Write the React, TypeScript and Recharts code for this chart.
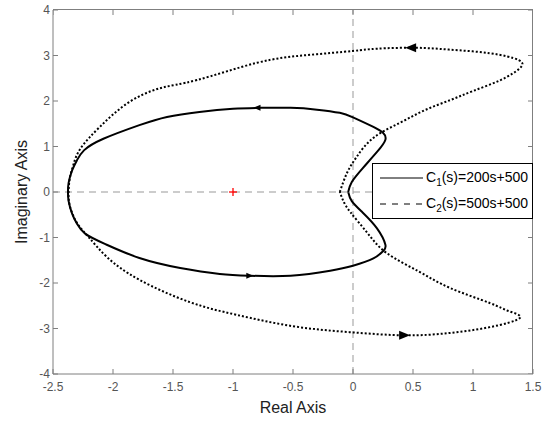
import React from 'react'
import {
  ScatterChart, Scatter, XAxis, YAxis, ReferenceLine,
} from 'recharts'

// C1(s) = 200s+500 closed Nyquist contour (solid)
const c1Re = [
  -0.04, -0.01, 0.08, 0.2, 0.27, 0.25, 0.17, 0.0, -0.11, -0.3, -0.52, -0.78, -1.0, -1.28,
  -1.55, -1.78, -2.08, -2.24, -2.3, -2.34, -2.37, -2.375,
  -2.37, -2.34, -2.3, -2.23, -2.06, -1.78, -1.44, -1.11, -0.86, -0.52, -0.19, 0.0, 0.17,
  0.25, 0.27, 0.2, 0.08, -0.01, -0.04,
]
const c1Im = [
  0, 0.22, 0.52, 0.88, 1.15, 1.3, 1.43, 1.64, 1.74, 1.81, 1.85, 1.85, 1.83, 1.76,
  1.65, 1.47, 1.17, 0.92, 0.7, 0.48, 0.2, 0,
  -0.2, -0.48, -0.7, -0.92, -1.15, -1.45, -1.67, -1.8, -1.84, -1.84, -1.73, -1.62, -1.46,
  -1.3, -1.16, -0.8, -0.45, -0.2, 0,
]

// C2(s) = 500s+500 closed Nyquist contour (dotted)
const c2Re = [
  -0.11, -0.05, 0.03, 0.17, 0.39, 0.6, 0.81, 1.0, 1.23, 1.39, 1.38, 1.14, 0.8, 0.52,
  0.2, 0.0, -0.38, -0.8, -1.3, -1.61, -1.88, -2.11, -2.27, -2.33, -2.36, -2.37,
  -2.36, -2.3, -2.2, -2.05, -1.78, -1.36, -0.97, -0.5, -0.03, 0.43, 0.8, 1.14, 1.39,
  1.3, 1.14, 0.81, 0.55, 0.28, 0.12, -0.02, -0.08, -0.11,
]
const c2Im = [
  0, 0.42, 0.77, 1.19, 1.52, 1.8, 2.02, 2.22, 2.46, 2.72, 2.9, 3.05, 3.13, 3.17,
  3.15, 3.1, 3.01, 2.84, 2.46, 2.28, 1.95, 1.43, 0.96, 0.6, 0.3, 0,
  -0.3, -0.68, -1.0, -1.43, -1.93, -2.42, -2.7, -2.95, -3.08, -3.15, -3.1, -2.97, -2.77,
  -2.62, -2.44, -2.11, -1.75, -1.34, -0.9, -0.45, -0.2, 0,
]

// direction arrows: position and travel direction (1 = right, -1 = left)
const c1Arrows = [
  { x: -0.8, y: 1.85, dir: -1 },
  { x: -0.86, y: -1.84, dir: 1 },
]
const c2Arrows = [
  { x: 0.48, y: 3.17, dir: -1 },
  { x: 0.43, y: -3.15, dir: 1 },
]
const critical = [{ x: -1, y: 0 }]

const xTicks = [-2.5, -2, -1.5, -1, -0.5, 0, 0.5, 1, 1.5]
const yTicks = [-4, -3, -2, -1, 0, 1, 2, 3, 4]

const c1Data = c1Re.map((x, i) => ({ x, y: c1Im[i] }))
const c2Data = c2Re.map((x, i) => ({ x, y: c2Im[i] }))

const FONT = '"Liberation Sans", Arial, Helvetica, sans-serif'
const AXIS = '#7f7f7f'
const TICK = { fill: '#555', fontSize: 12, fontFamily: FONT }

const noDot = () => <g />

// inward tick marks on the top and right edges, drawn at the tick values
const topTick = (props: any) => {
  const { cx, cy } = props
  return <line x1={cx} y1={cy} x2={cx} y2={cy + 5} stroke={AXIS} />
}
const rightTick = (props: any) => {
  const { cx, cy } = props
  return <line x1={cx} y1={cy} x2={cx - 5} y2={cy} stroke={AXIS} />
}
const topTickData = xTicks.map((x) => ({ x, y: yTicks[yTicks.length - 1] }))
const rightTickData = yTicks.map((y) => ({ x: xTicks[xTicks.length - 1], y }))

const arrowShape = (len: number, half: number) => (props: any) => {
  const { cx, cy, payload } = props
  const d = payload.dir
  const tip = cx + (d * len) / 2
  const base = cx - (d * len) / 2
  return <polygon points={`${tip},${cy} ${base},${cy - half} ${base},${cy + half}`} fill="#000" />
}

const plusShape = (props: any) => {
  const { cx, cy } = props
  return (
    <g stroke="#ff0000" strokeWidth={1.3}>
      <line x1={cx - 4} y1={cy} x2={cx + 4} y2={cy} />
      <line x1={cx} y1={cy - 4} x2={cx} y2={cy + 4} />
    </g>
  )
}

function LegendBox() {
  const row = { display: 'flex', alignItems: 'center', height: 26 }
  return (
    <div
      style={{
        position: 'absolute', left: 372, top: 163, width: 161, height: 56,
        border: '1px solid #000', background: '#fff', fontFamily: FONT, fontSize: 14,
        color: '#000', boxSizing: 'border-box', paddingTop: 1,
      }}
    >
      <div style={row}>
        <svg width={52} height={10} style={{ marginLeft: 7 }}>
          <line x1={0} y1={5} x2={43} y2={5} stroke="#000" strokeWidth={1} />
        </svg>
        <span style={{ marginLeft: -6 }}>C<sub style={{ fontSize: 10 }}>1</sub>(s)=200s+500</span>
      </div>
      <div style={row}>
        <svg width={52} height={10} style={{ marginLeft: 7 }}>
          <line x1={0} y1={5} x2={43} y2={5} stroke="#000" strokeWidth={1} strokeDasharray="6 6" />
        </svg>
        <span style={{ marginLeft: -6 }}>C<sub style={{ fontSize: 10 }}>2</sub>(s)=500s+500</span>
      </div>
    </div>
  )
}

export default function App() {
  return (
    <div style={{ position: 'absolute', left: 0, top: 0, width: 552, height: 421, background: '#fff' }}>
      <ScatterChart width={552} height={421} margin={{ top: 10, right: 19, bottom: 0, left: 0 }}>
        <XAxis
          xAxisId="x" type="number" dataKey="x" domain={[-2.5, 1.5]} ticks={xTicks}
          allowDataOverflow height={47} stroke={AXIS} tickSize={-5} tickMargin={13}
          tick={TICK} interval={0}
          label={{ value: 'Real Axis', position: 'insideBottom', offset: 8, fill: '#222', fontSize: 16, fontFamily: FONT }}
        />
        <YAxis
          yAxisId="y" type="number" dataKey="y" domain={[-4, 4]} ticks={yTicks}
          allowDataOverflow width={53} stroke={AXIS} tickSize={-5} tickMargin={8}
          tick={TICK} interval={0}
          label={{ value: 'Imaginary Axis', angle: -90, position: 'insideLeft', offset: 21, fill: '#222', fontSize: 16, fontFamily: FONT, style: { textAnchor: 'middle' } }}
        />
        <ReferenceLine xAxisId="x" yAxisId="y" x={0} stroke="#999" strokeDasharray="7 5" />
        <ReferenceLine xAxisId="x" yAxisId="y" y={0} stroke="#999" strokeDasharray="7 5" />
        <Scatter xAxisId="x" yAxisId="y" data={topTickData} shape={topTick} isAnimationActive={false} />
        <Scatter xAxisId="x" yAxisId="y" data={rightTickData} shape={rightTick} isAnimationActive={false} />
        <Scatter
          xAxisId="x" yAxisId="y" data={c2Data} line={{ stroke: '#000', strokeWidth: 2, strokeDasharray: '2 2' }}
          lineType="joint" lineJointType="natural" shape={noDot} isAnimationActive={false}
        />
        <Scatter
          xAxisId="x" yAxisId="y" data={c1Data} line={{ stroke: '#000', strokeWidth: 2 }}
          lineType="joint" lineJointType="natural" shape={noDot} isAnimationActive={false}
        />
        <Scatter xAxisId="x" yAxisId="y" data={c1Arrows} shape={arrowShape(7, 3)} isAnimationActive={false} />
        <Scatter xAxisId="x" yAxisId="y" data={c2Arrows} shape={arrowShape(11, 4.5)} isAnimationActive={false} />
        <Scatter xAxisId="x" yAxisId="y" data={critical} shape={plusShape} isAnimationActive={false} />
      </ScatterChart>
      {/* plot frame (top and right edges of the axes box) */}
      <div
        style={{
          position: 'absolute', left: 53, top: 9, width: 480, height: 365,
          borderTop: `1px solid ${AXIS}`, borderRight: `1px solid ${AXIS}`,
          boxSizing: 'border-box', pointerEvents: 'none',
        }}
      />
      <LegendBox />
    </div>
  )
}
